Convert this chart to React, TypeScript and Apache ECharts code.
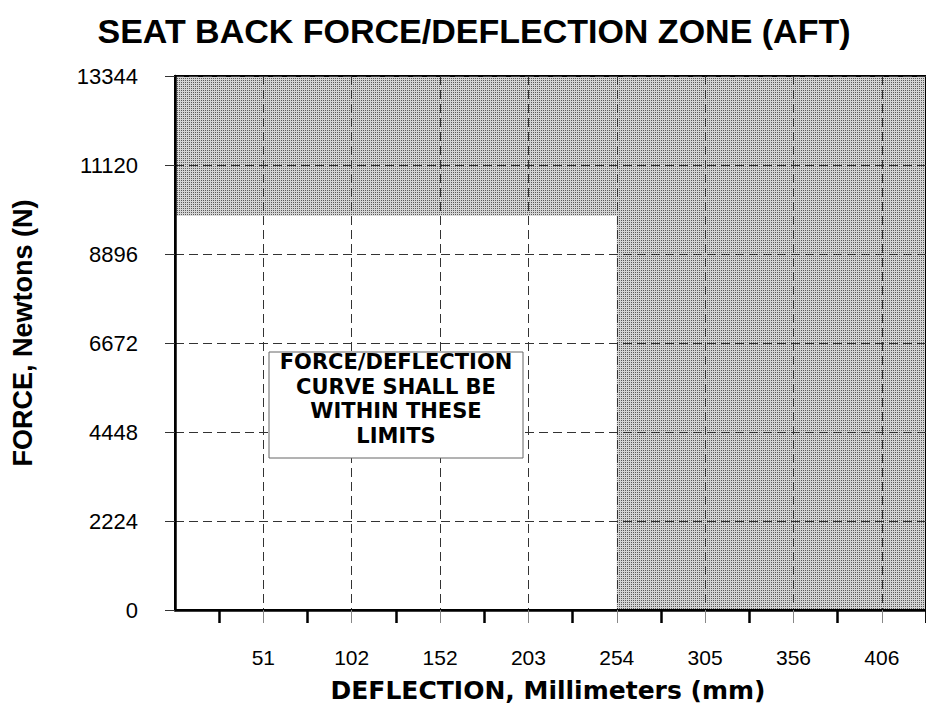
import React, { useEffect, useRef } from "react";
import * as echarts from "echarts";

// ---- data ----
const xMin = 0;
const xMax = 431.8; // mm (17 in)
const xTickStep = 50.8; // mm (2 in)
const xMinorOffset = 25.4; // odd-inch tick marks
const xTickLabels = ["51", "102", "152", "203", "254", "305", "356", "406"];

const yMin = 0;
const yMax = 13344;
const yTickStep = 2224;
const yTickLabels = ["0", "2224", "4448", "6672", "8896", "11120", "13344"];

// shaded out-of-limit zones: [xFrom, xTo, yFrom, yTo]
const forceLimitZone = [0, 254, 9850, 13344];
const deflectionLimitZone = [254, 431.8, 0, 13344];

const titleText = "SEAT BACK FORCE/DEFLECTION ZONE (AFT)";
const xAxisName = "DEFLECTION, Millimeters (mm)";
const yAxisName = "FORCE, Newtons (N)";
const noteLines = ["FORCE/DEFLECTION", "CURVE SHALL BE", "WITHIN THESE", "LIMITS"];

export default function App() {
  const ref = useRef<HTMLDivElement>(null);

  useEffect(() => {
    if (!ref.current) return;
    const chart = echarts.init(ref.current, null, { renderer: "svg" });

    const c = document.createElement("canvas");
    c.width = 2;
    c.height = 2;
    const ctx = c.getContext("2d")!;
    ctx.fillStyle = "#d4d4d4";
    ctx.fillRect(0, 0, 2, 2);
    ctx.fillStyle = "#5a5a5a";
    ctx.fillRect(1, 0, 1, 1);
    const pattern: any = { image: c, repeat: "repeat" };

    const gridLeft = 175;
    const gridRight = -1;
    const gridTop = 76;
    const gridBottom = 94;
    const plotWidth = 926 - gridRight - gridLeft;
    const pxPerMm = plotWidth / (xMax - xMin);

    const font = "Liberation Sans, Arial, sans-serif";

    const option: any = {
      animation: false,
      backgroundColor: "#ffffff",
      grid: [
        {
          left: gridLeft,
          right: gridRight,
          top: gridTop,
          bottom: gridBottom,
          show: true,
          borderColor: "#000",
          borderWidth: 2,
          backgroundColor: "transparent",
        },
        {
          left: gridLeft + xMinorOffset * pxPerMm,
          right: gridRight,
          top: gridTop,
          bottom: gridBottom,
          show: false,
        },
      ],
      xAxis: [
        {
          type: "value",
          gridIndex: 0,
          min: xMin,
          max: xMax,
          interval: xTickStep,
          axisLine: { show: true, lineStyle: { color: "#000", width: 2.5 } },
          axisTick: { show: true, length: 13, lineStyle: { color: "#888", width: 1 } },
          axisLabel: {
            show: true,
            showMinLabel: false,
            showMaxLabel: false,
            margin: 37,
            color: "#000",
            fontSize: 21,
            fontFamily: font,
            formatter: (v: number) => {
              const i = Math.round(v / xTickStep) - 1;
              return i >= 0 && i < xTickLabels.length ? xTickLabels[i] : "";
            },
          },
          splitLine: {
            show: true,
            lineStyle: { color: "#333", width: 1, type: [9, 5] },
          },
        },
        {
          type: "value",
          gridIndex: 1,
          min: 0,
          max: xMax - xMinorOffset,
          interval: xTickStep,
          axisLine: { show: false },
          axisTick: { show: true, length: 13, lineStyle: { color: "#000", width: 2.5 } },
          axisLabel: { show: false },
          splitLine: { show: false },
        },
      ],
      yAxis: [
        {
          type: "value",
          gridIndex: 0,
          min: yMin,
          max: yMax,
          interval: yTickStep,
          axisLine: { show: true, lineStyle: { color: "#000", width: 2.5 } },
          axisTick: { show: true, length: 10, lineStyle: { color: "#333", width: 1 } },
          axisLabel: {
            margin: 37,
            color: "#000",
            fontSize: 22,
            fontFamily: font,
            formatter: (v: number) => {
              const i = Math.round(v / yTickStep);
              return yTickLabels[i] ?? "";
            },
          },
          splitLine: {
            show: true,
            lineStyle: { color: "#333", width: 1, type: [9, 5] },
          },
        },
        {
          type: "value",
          gridIndex: 1,
          min: yMin,
          max: yMax,
          show: false,
        },
      ],
      series: [
        {
          type: "custom",
          xAxisIndex: 0,
          yAxisIndex: 0,
          z: -1,
          silent: true,
          data: [forceLimitZone, deflectionLimitZone],
          renderItem: (_params: any, api: any) => {
            const x0 = api.value(0);
            const x1 = api.value(1);
            const y0 = api.value(2);
            const y1 = api.value(3);
            const p0 = api.coord([x0, y1]);
            const p1 = api.coord([x1, y0]);
            return {
              type: "rect",
              shape: { x: p0[0], y: p0[1], width: p1[0] - p0[0], height: p1[1] - p0[1] },
              style: { fill: pattern, stroke: null },
            };
          },
        },
      ],
      graphic: [
        {
          type: "text",
          x: 474,
          y: 31,
          style: {
            text: titleText,
            fontSize: 34,
            fontWeight: "bold",
            fontFamily: font,
            fill: "#000",
            align: "center",
            verticalAlign: "middle",
          },
        },
        {
          type: "text",
          x: 22.5,
          y: 333,
          rotation: Math.PI / 2,
          style: {
            text: yAxisName,
            fontSize: 27,
            fontWeight: "bold",
            fontFamily: font,
            fill: "#000",
            align: "center",
            verticalAlign: "middle",
          },
        },
        {
          type: "text",
          x: 548,
          y: 690,
          style: {
            text: xAxisName,
            fontSize: 25,
            fontWeight: "bold",
            fontFamily: "DejaVu Sans, sans-serif",
            fill: "#000",
            align: "center",
            verticalAlign: "middle",
          },
        },
        {
          type: "rect",
          shape: { x: 269, y: 352, width: 254, height: 106 },
          style: { fill: "#fff", stroke: "#666", lineWidth: 1 },
          z: 10,
        },
        {
          type: "text",
          x: 396,
          y: 399,
          z: 11,
          style: {
            text: noteLines.join("\n"),
            fontSize: 21,
            lineHeight: 24.5,
            fontWeight: "bold",
            fontFamily: "DejaVu Sans, sans-serif",
            fill: "#000",
            align: "center",
            verticalAlign: "middle",
          },
        },
      ],
    };

    chart.setOption(option);
    return () => chart.dispose();
  }, []);

  return <div ref={ref} style={{ width: 926, height: 704, position: "absolute", left: 0, top: 0 }} />;
}
